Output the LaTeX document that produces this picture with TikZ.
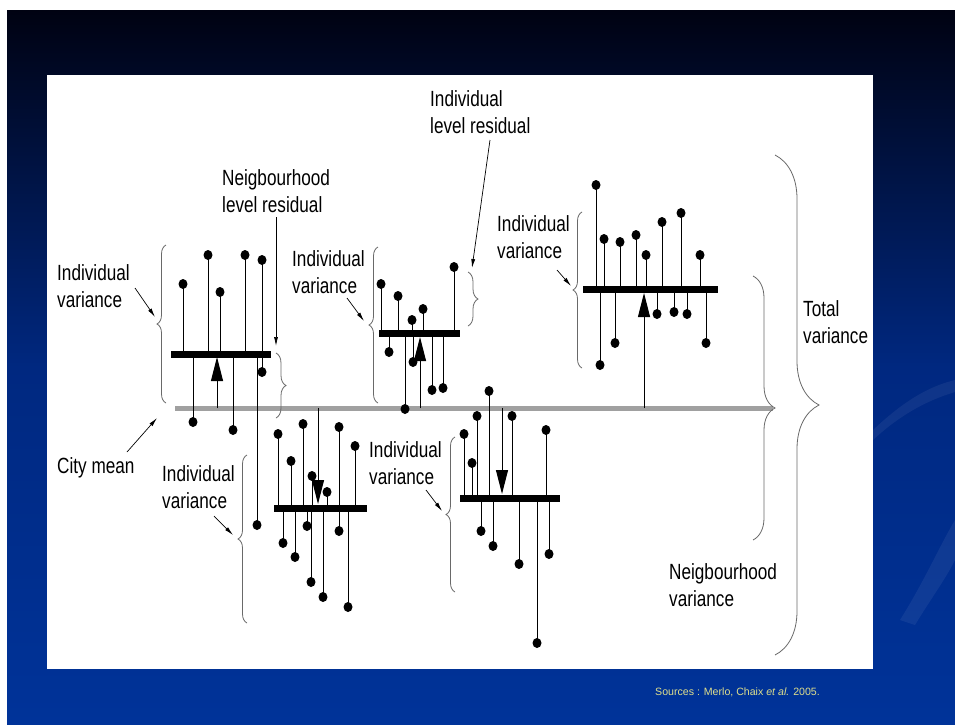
\documentclass[tikz,border=0pt]{standalone}
\usepackage{fontspec}
\setmainfont{Liberation Sans}
\newfontfamily\lblfont{Liberation Sans}[FakeStretch=0.78]
\usetikzlibrary{arrows.meta,decorations.pathreplacing}

\definecolor{slideblue}{RGB}{0,51,153}
\definecolor{slidemid}{RGB}{0,40,128}
\definecolor{slidedark}{RGB}{0,2,18}
\definecolor{meangray}{RGB}{160,160,160}
\definecolor{bracegray}{RGB}{105,105,105}
\definecolor{srcyellow}{RGB}{222,222,140}

\tikzset{
  lbl/.style={anchor=north west,inner sep=0pt,align=left,
    font=\lblfont\fontsize{22}{27}\selectfont},
  stick/.style={line width=1pt},
  grpbar/.style={line width=7pt},
  resid/.style={line width=1pt,-{Triangle[length=24pt,width=12pt]}},
  pointer/.style={line width=0.7pt,-{Latex[length=9pt,width=4pt]}},
  grpbrace/.style={draw=bracegray,line width=0.8pt,decorate,
    decoration={brace,amplitude=#1}},
  grpbrace/.default=9pt,
}

\begin{document}
\begin{tikzpicture}[x=1pt,y=-1pt]
  \useasboundingbox (0,0) rectangle (955,724);
  % slide background
  \fill[white] (0,0) rectangle (955,724);
  \shade[top color=slidedark,bottom color=slideblue,middle color=slidemid]
    (7,10) rectangle (955,724);
  \fill[white,opacity=0.06] (873,430) .. controls (910,395) and (935,385) .. (955,380)
    -- (955,392) .. controls (935,398) and (905,410) .. (873,440) -- cycle;
  \fill[white,opacity=0.06] (900,620) .. controls (925,580) and (940,545) .. (955,520)
    -- (955,560) .. controls (945,580) and (930,600) .. (915,625) -- cycle;
  \fill[white] (47,75) rectangle (873,669);

  % city mean
  \coordinate (meanL) at (175,408);
  \coordinate (meanR) at (773,408);
  \draw[meangray,line width=5pt] (meanL) -- (meanR);

  % neighbourhood 1
  \draw[grpbar] (171,354) -- (271,354);
  \foreach \x/\y in {183/284,208/255,220/292,245/255,262/260,
                     193/422,233/430,257/525,262/372}
    {\draw[stick] (\x,354) -- (\x,\y);
     \fill (\x,\y) ellipse[x radius=4.5pt,y radius=5pt];}
  \coordinate (m1) at (217,408);
  \coordinate (b1) at (217,357);
  \draw[resid] (m1) -- (b1);

  % neighbourhood 2
  \draw[grpbar] (379,333) -- (460,333);
  \foreach \x/\y in {381/284,398/296,412/320,423/309,454/267,
                     389/352,413/362,405/409,432/390,443/388}
    {\draw[stick] (\x,333) -- (\x,\y);
     \fill (\x,\y) ellipse[x radius=4.5pt,y radius=5pt];}
  \coordinate (m2) at (420,408);
  \coordinate (b2) at (420,337);
  \draw[resid] (m2) -- (b2);

  % neighbourhood 3
  \draw[grpbar] (583,289) -- (718,289);
  \foreach \x/\y in {596/185,604/239,620/242,636/235,646/255,662/222,681/213,700/255,
                     600/365,615/343,657/314,674/312,687/314,706/343}
    {\draw[stick] (\x,289) -- (\x,\y);
     \fill (\x,\y) ellipse[x radius=4.5pt,y radius=5pt];}
  \coordinate (m3) at (644,408);
  \coordinate (b3) at (644,293);
  \draw[resid] (m3) -- (b3);

  % neighbourhood 4
  \draw[grpbar] (274,508) -- (367,508);
  \foreach \x/\y in {278/434,291/461,303/424,312/476,327/492,339/427,355/446,
                     283/543,295/557,307/526,311/582,323/597,339/531,348/607}
    {\draw[stick] (\x,508) -- (\x,\y);
     \fill (\x,\y) ellipse[x radius=4.5pt,y radius=5pt];}
  \coordinate (m4) at (318,408);
  \coordinate (b4) at (318,504);
  \draw[resid] (m4) -- (b4);

  % neighbourhood 5
  \draw[grpbar] (460,498) -- (560,498);
  \foreach \x/\y in {464/434,472/463,477/416,489/391,512/416,546/430,
                     481/531,493/546,519/564,537/643,549/554}
    {\draw[stick] (\x,498) -- (\x,\y);
     \fill (\x,\y) ellipse[x radius=4.5pt,y radius=5pt];}
  \coordinate (m5) at (502,408);
  \coordinate (b5) at (502,494);
  \draw[resid] (m5) -- (b5);

  % braces
  \draw[grpbrace] (166,403) -- (166,245);
  \draw[grpbrace] (378,403) -- (378,247);
  \draw[grpbrace] (582,368) -- (582,212);
  \draw[grpbrace] (247,623) -- (247,455);
  \draw[grpbrace] (455,592) -- (455,437);
  \draw[grpbrace=10pt] (276,353) -- (276,418);
  \draw[grpbrace=10pt] (468,272) -- (468,326);
  \draw[grpbrace=22pt] (753,276) -- (753,540);
  \draw[grpbrace=44pt] (775,155) -- (775,655);

  % labels
  \node[lbl] (ilres) at (430,90) {Individual\\level residual};
  \node[lbl] (nlres) at (222,169) {Neigbourhood\\level residual};
  \node[lbl] (ivar1) at (57,264) {Individual\\variance};
  \node[lbl] (ivar2) at (292,250) {Individual\\variance};
  \node[lbl] (ivar3) at (497,215) {Individual\\variance};
  \node[lbl] (ivar4) at (162,465) {Individual\\variance};
  \node[lbl] (ivar5) at (369,441) {Individual\\variance};
  \node[lbl] (citym) at (57,457) {City mean};
  \node[lbl] (totv) at (803,300) {Total\\variance};
  \node[lbl] (nbv) at (669,563) {Neigbourhood\\variance};

  % pointers
  \coordinate (p1s) at (135,288);  \coordinate (p1e) at (155,317);
  \coordinate (p2s) at (347,298);  \coordinate (p2e) at (364,321);
  \coordinate (p3s) at (557,270);  \coordinate (p3e) at (571,286);
  \coordinate (p4s) at (214,516);  \coordinate (p4e) at (233,535);
  \coordinate (p5s) at (426,490);  \coordinate (p5e) at (442,511);
  \coordinate (pcs) at (127,452);  \coordinate (pce) at (157,418);
  \coordinate (pns) at (276,217);  \coordinate (pne) at (276,346);
  \coordinate (pis) at (490,140);  \coordinate (pie) at (472,268);
  \foreach \a in {1,2,3,4,5,c,n,i}
    \draw[pointer] (p\a s) -- (p\a e);

  % source
  \node[anchor=base west,inner sep=0pt,text=srcyellow,font=\fontsize{10.6}{12}\selectfont]
    (src) at (655,695) {Sources : Merlo, Chaix \textit{et al.} 2005.};
\end{tikzpicture}
\end{document}
